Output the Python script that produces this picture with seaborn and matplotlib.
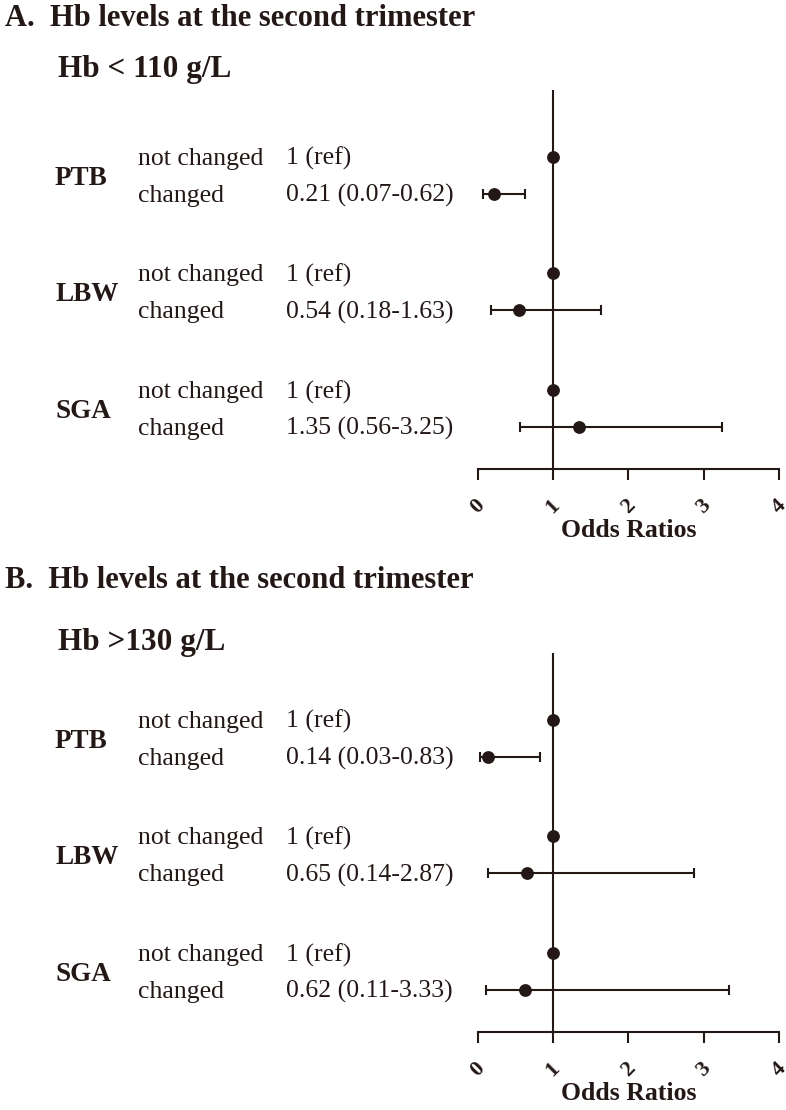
import matplotlib
matplotlib.use("Agg")
import matplotlib.pyplot as plt
import matplotlib.transforms as mtransforms
import seaborn as sns
import pandas as pd

# data
outcomes = ["PTB", "LBW", "SGA"]
statuses = ["not changed", "changed"]

or_a = [0.21, 0.54, 1.35]
lo_a = [0.07, 0.18, 0.56]
hi_a = [0.62, 1.63, 3.25]

or_b = [0.14, 0.65, 0.62]
lo_b = [0.03, 0.14, 0.11]
hi_b = [0.83, 2.87, 3.33]

panel_titles = ["A.  Hb levels at the second trimester",
                "B.  Hb levels at the second trimester"]
subgroups = ["Hb < 110 g/L", "Hb >130 g/L"]
xticks = [0, 1, 2, 3, 4]

INK = "#231816"
GROUP_STEP = 3.16


def build_frame(ors, los, his):
    rows = []
    for g, name in enumerate(outcomes):
        rows.append(dict(outcome=name, status=statuses[0], OR=1.0, lo=None, hi=None,
                         y=g * GROUP_STEP, label="1 (ref)"))
        rows.append(dict(outcome=name, status=statuses[1], OR=ors[g], lo=los[g], hi=his[g],
                         y=g * GROUP_STEP + 1,
                         label=f"{ors[g]:.2f} ({los[g]:.2f}-{his[g]:.2f})"))
    return pd.DataFrame(rows)


sns.set_theme(style="white")
plt.rcParams["font.family"] = ["Liberation Serif", "DejaVu Serif"]
plt.rcParams["text.color"] = INK
plt.rcParams["axes.labelcolor"] = INK
plt.rcParams["xtick.color"] = INK

fig = plt.figure(figsize=(7.86, 11.1), dpi=100)

# (frame, axes bottom, title y, subgroup y) in figure fractions
panels = [
    (build_frame(or_a, lo_a, hi_a), 0.5775, 0.017, 0.063),
    (build_frame(or_b, lo_b, hi_b), 0.0703, 0.523, 0.579),
]

for i, (df, bottom, title_y, sub_y) in enumerate(panels):
    ax = fig.add_axes([0.608, bottom, 0.383, 0.3414])

    ax.axvline(1, color=INK, lw=1.5, zorder=1)
    changed = df[df["status"] == "changed"]
    ax.errorbar(changed["OR"], changed["y"],
                xerr=[changed["OR"] - changed["lo"], changed["hi"] - changed["OR"]],
                fmt="none", ecolor=INK, elinewidth=1.5, capsize=3.6, capthick=1.5, zorder=2)
    sns.scatterplot(data=df, x="OR", y="y", ax=ax, color=INK, s=85,
                    edgecolor=INK, linewidth=0, zorder=3, legend=False)

    ax.set_xlim(0, 4)
    ax.set_ylim(2 * GROUP_STEP + 1 + 1.14, -1.81)
    ax.set_xticks(xticks)
    ax.set_xticklabels([str(t) for t in xticks], rotation=45, ha="center",
                       fontsize=16, fontweight="bold")
    ax.set_yticks([])
    ax.set_ylabel("")
    ax.set_xlabel("Odds Ratios", fontsize=18.5, fontweight="bold", labelpad=1)
    ax.tick_params(axis="x", bottom=True, direction="out", length=8, width=1.5, pad=11)
    for side in ["top", "right", "left"]:
        ax.spines[side].set_visible(False)
    ax.spines["bottom"].set_color(INK)
    ax.spines["bottom"].set_linewidth(1.5)

    # text columns left of the plot, tied to the data rows
    tr = mtransforms.blended_transform_factory(fig.transFigure, ax.transData)
    for g, name in enumerate(outcomes):
        sub = df[df["outcome"] == name]
        ax.text(0.070, sub["y"].mean() + 0.08, name, transform=tr, fontsize=19.5,
                fontweight="bold", va="center", ha="left")
        for _, r in sub.iterrows():
            ax.text(0.176, r["y"] + 0.05, r["status"], transform=tr, fontsize=18.5,
                    va="center", ha="left")
            ax.text(0.364, r["y"] + 0.05, r["label"], transform=tr, fontsize=18.5,
                    va="center", ha="left")

    fig.text(0.006, 1 - title_y, panel_titles[i], fontsize=22, fontweight="bold",
             va="center", ha="left")
    fig.text(0.074, 1 - sub_y, subgroups[i], fontsize=22.5, fontweight="bold",
             va="center", ha="left")

fig.savefig("out.png", dpi=100)
